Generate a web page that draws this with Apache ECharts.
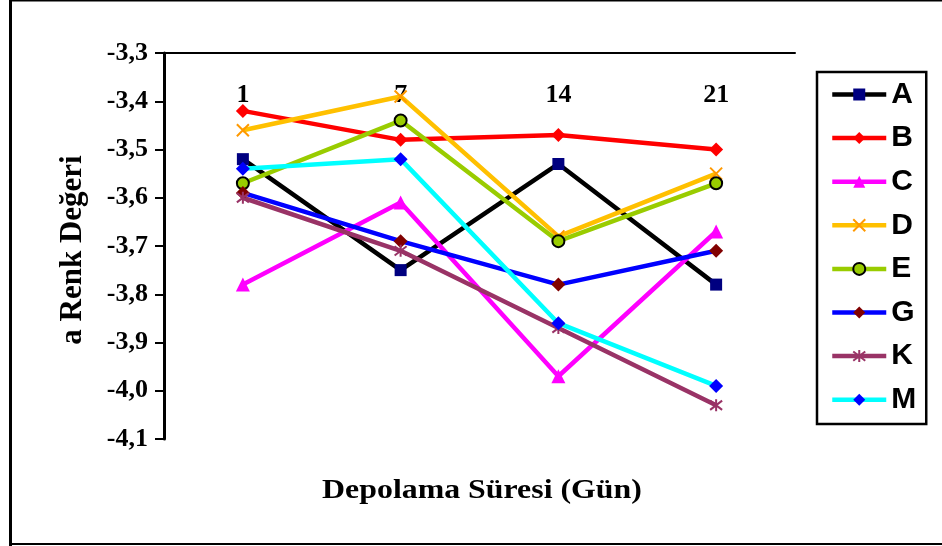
<!DOCTYPE html>
<html>
<head>
<meta charset="utf-8">
<script src="https://cdn.jsdelivr.net/npm/echarts@6/dist/echarts.min.js"></script>
<style>
  html, body { margin: 0; padding: 0; background: #fff; }
  #chart { width: 942px; height: 546px; }
</style>
</head>
<body>
<div id="chart"></div>
<script>
// Storage time (days) and "a" colour values per sample
const days = ['1', '7', '14', '21'];
const seriesNames = ['A', 'B', 'C', 'D', 'E', 'G', 'K', 'M'];
const valuesA = [-3.52, -3.75, -3.53, -3.78];
const valuesB = [-3.42, -3.48, -3.47, -3.50];
const valuesC = [-3.78, -3.61, -3.97, -3.67];
const valuesD = [-3.46, -3.39, -3.68, -3.55];
const valuesE = [-3.57, -3.44, -3.69, -3.57];
const valuesG = [-3.59, -3.69, -3.78, -3.71];
const valuesK = [-3.60, -3.71, -3.87, -4.03];
const valuesM = [-3.54, -3.52, -3.86, -3.99];
const yMin = -4.1, yMax = -3.3, yStep = 0.1;

const SERIF = 'Liberation Serif, Times New Roman, serif';
const SANS = 'Liberation Sans, Arial, sans-serif';

const crossPath = 'path://M0,0L10,10M10,0L0,10';
const starPath = 'path://M0,0L10,10M10,0L0,10M5,-1.5L5,11.5';

const styles = {
  A: { line: '#000000', symbol: 'rect', size: 12, fill: '#000080' },
  B: { line: '#FF0000', symbol: 'diamond', size: 14, fill: '#FF0000' },
  C: { line: '#FF00FF', symbol: 'triangle', size: 14, fill: '#FF00FF' },
  D: { line: '#FFC000', symbol: crossPath, size: 12, fill: '#FF9900', stroke: '#FF9900', sw: 2 },
  E: { line: '#99CC00', symbol: 'circle', size: 12, fill: '#99CC00', stroke: '#000000', sw: 2 },
  G: { line: '#0000FF', symbol: 'diamond', size: 14, fill: '#800000' },
  K: { line: '#993366', symbol: starPath, size: 12, fill: '#993366', stroke: '#993366', sw: 2 },
  M: { line: '#00FFFF', symbol: 'diamond', size: 14, fill: '#0000FF' }
};
const dataByName = { A: valuesA, B: valuesB, C: valuesC, D: valuesD, E: valuesE, G: valuesG, K: valuesK, M: valuesM };

const series = seriesNames.map(function (n) {
  const s = styles[n];
  return {
    name: n,
    type: 'line',
    data: dataByName[n],
    symbol: s.symbol,
    symbolSize: s.size,
    showAllSymbol: true,
    lineStyle: { color: s.line, width: 4.5 },
    itemStyle: {
      color: s.fill,
      borderColor: s.stroke || s.fill,
      borderWidth: s.sw || 0
    },
    emphasis: { disabled: true },
    animation: false
  };
});

const chart = echarts.init(document.getElementById('chart'), null, { renderer: 'canvas' });
chart.setOption({
  backgroundColor: '#ffffff',
  animation: false,
  grid: { left: 164, right: 147, top: 53, bottom: 107 },
  legend: {
    orient: 'vertical',
    left: 817,
    top: 72,
    padding: [7.5, 10, 9.3, 13],
    itemGap: 13.6,
    itemWidth: 54,
    itemHeight: 15,
    borderColor: '#000000',
    borderWidth: 2.5,
    data: seriesNames,
    lineStyle: { width: 4.5 },
    textStyle: { fontFamily: SANS, fontWeight: 'bold', fontSize: 30, color: '#000' },
    selectedMode: false
  },
  xAxis: {
    type: 'category',
    data: days,
    position: 'top',
    boundaryGap: true,
    axisLine: { onZero: false, lineStyle: { color: '#000', width: 2 } },
    axisTick: { inside: true, length: 8, lineStyle: { color: '#000', width: 2 } },
    axisLabel: {
      inside: true,
      margin: 29,
      fontFamily: SERIF,
      fontWeight: 'bold',
      fontSize: 26,
      color: '#000'
    },
    splitLine: { show: false }
  },
  yAxis: {
    type: 'value',
    min: yMin,
    max: yMax,
    interval: yStep,
    axisLine: { show: true, onZero: false, lineStyle: { color: '#000', width: 3 } },
    axisTick: { show: true, length: 9, lineStyle: { color: '#000', width: 2 } },
    axisLabel: {
      margin: 16,
      fontFamily: SERIF,
      fontWeight: 'bold',
      fontSize: 26,
      color: '#000',
      formatter: function (v) { return v.toFixed(1).replace('.', ','); }
    },
    splitLine: { show: false }
  },
  graphic: [
    {
      type: 'rect',
      shape: { x: 10.5, y: 0.5, width: 940, height: 543.5 },
      style: { fill: 'none', stroke: '#000', lineWidth: 2 },
      silent: true
    },
    {
      type: 'line',
      shape: { x1: 10.5, y1: 0, x2: 10.5, y2: 546 },
      style: { stroke: '#000', lineWidth: 3 },
      silent: true
    },
    {
      type: 'text',
      x: 482,
      y: 491,
      scaleX: 1.18,
      style: {
        text: 'Depolama Süresi (Gün)',
        fontFamily: SERIF,
        fontWeight: 'bold',
        fontSize: 27,
        fill: '#000',
        align: 'center',
        verticalAlign: 'middle'
      },
      silent: true
    },
    {
      type: 'text',
      x: 73,
      y: 250,
      rotation: Math.PI / 2,
      style: {
        text: 'a Renk Değeri',
        fontFamily: SERIF,
        fontWeight: 'bold',
        fontSize: 31,
        fill: '#000',
        align: 'center',
        verticalAlign: 'middle'
      },
      silent: true
    }
  ],
  series: series
});
</script>
</body>
</html>
